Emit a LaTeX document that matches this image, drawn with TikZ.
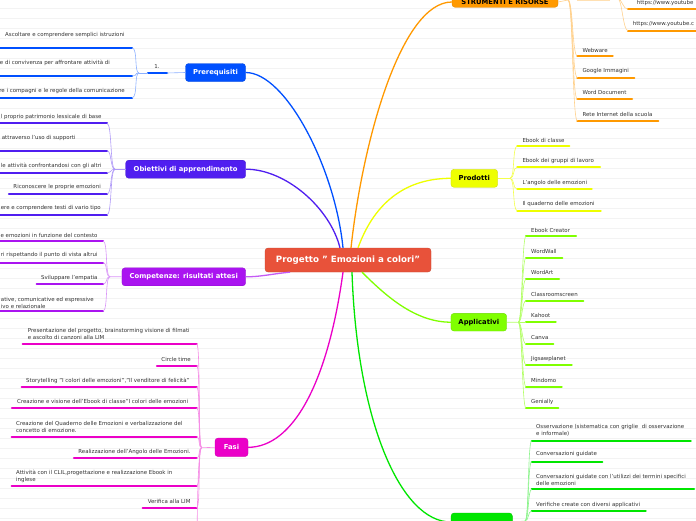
\documentclass[tikz,border=0pt]{standalone}
\usepackage{fontspec}
\setmainfont{DejaVu Sans}
\definecolor{cRed}{RGB}{232,82,58}
\definecolor{cBlue}{RGB}{0,80,255}
\definecolor{cIndigo}{RGB}{80,30,240}
\definecolor{cPurple}{RGB}{170,20,240}
\definecolor{cMag}{RGB}{235,0,200}
\definecolor{cOrange}{RGB}{255,153,0}
\definecolor{cYellow}{RGB}{238,255,0}
\definecolor{cLime}{RGB}{128,255,0}
\definecolor{cGreen}{RGB}{0,230,0}
\definecolor{txt}{RGB}{50,50,50}
\definecolor{stripe}{RGB}{243,243,243}
\newcommand\myul[5]{\coordinate (#2-s) at (#4,#3); \coordinate (#2-e) at (#5,#3); \draw[uline,#1] (#2-s) -- (#2-e);}
\begin{document}
\begin{tikzpicture}[x=1pt,y=-1pt,
  mainbox/.style={rounded corners=3pt, inner sep=0pt, font=\fontsize{6.8}{7.5}\selectfont\bfseries, draw=#1!85!black, line width=0.3pt, fill=#1},
  leaf/.style={font=\fontsize{5.45}{6.7}\selectfont, text=txt, inner sep=0pt, align=left},
  uline/.style={line width=2.2pt, line cap=round},
  twig/.style={line width=0.6pt},
  trunk/.style={line width=1.3pt}]
\useasboundingbox (0,0) rectangle (696,520);
\clip (0,0) rectangle (696,520);
\fill[white] (0,0) rectangle (696,520);
\foreach \k in {0,...,51} \draw[stripe, line width=0.5pt] (0,{8.3+10*\k}) -- (696,{8.3+10*\k});

% ---------- main nodes ----------
\node[mainbox=cRed, minimum width=166pt, minimum height=24pt, text=white, font=\fontsize{8.7}{9}\selectfont\bfseries] (cen) at (348,260) {Progetto " Emozioni a colori"};
\node[mainbox=cBlue, minimum width=60pt, minimum height=18pt, text=white] (pre) at (215.5,72.5) {Prerequisiti};
\node[mainbox=cIndigo, minimum width=120pt, minimum height=18pt, text=white] (obi) at (185.7,169.2) {Obiettivi di apprendimento};
\node[mainbox=cPurple, minimum width=123.7pt, minimum height=18pt, text=white] (com) at (183.8,276.8) {Competenze: risultati attesi};
\node[mainbox=cMag, minimum width=33pt, minimum height=18.5pt, text=white] (fas) at (231.5,447.3) {Fasi};
\node[mainbox=cOrange, minimum width=106pt, minimum height=10.6pt, text=black] (str) at (505,2) {STRUMENTI E RISORSE};
\node[mainbox=cYellow, minimum width=46.7pt, minimum height=18pt, text=black] (pro) at (474.3,178.3) {Prodotti};
\node[mainbox=cLime, minimum width=55.7pt, minimum height=17.7pt, text=black] (app) at (478.8,322.2) {Applicativi};
\node[mainbox=cGreen, minimum width=61.3pt, minimum height=18pt] (val) at (481.7,522) {};

% ---------- connectors from centre ----------
\draw[trunk,cBlue] ([xshift=-5pt]cen.north) .. controls +(-8,-80) and +(40,0) .. (pre.east);
\draw[trunk,cIndigo] ([xshift=-8pt]cen.north) .. controls +(-10,-40) and +(40,0) .. (obi.east);
\draw[trunk,cOrange] ([xshift=3pt]cen.north) .. controls +(12,-110) and +(-50,0) .. (str.west);
\draw[trunk,cYellow] ([xshift=10pt]cen.north) .. controls +(20,-55) and +(-35,0) .. (pro.west);
\draw[trunk,cPurple!70] ([xshift=-58pt]cen.south) .. controls +(-20,2) and +(15,0) .. (com.east);
\draw[trunk,cMag] ([xshift=-5pt]cen.south) .. controls +(-15,110) and +(45,0) .. (fas.east);
\draw[trunk,cLime] ([xshift=14pt]cen.south) .. controls +(25,25) and +(-35,0) .. (app.west);
\draw[trunk,cGreen] ([xshift=4pt]cen.south) .. controls +(5,150) and +(-50,0) .. (val.west);

% ---------- Prerequisiti ----------
\node[leaf] (one) at (157,67) {1.};
\myul{cBlue}{one}{73}{148}{167}
\coordinate (prebr) at (139,73);
\draw[twig,cBlue!45] (pre.west) -- (one-e);
\draw[twig,cBlue!45] (one-s) -- (prebr);
\node[leaf,anchor=west] (p1) at (5,35) {Ascoltare e comprendere semplici istruzioni};
\myul{cBlue}{p1}{48}{-5}{132}
\node[leaf,anchor=east] (p2) at (110,63) {e di convivenza per affrontare attività di};
\myul{cBlue}{p2}{76}{-5}{132}
\node[leaf,anchor=east] (p3) at (125,91) {re i compagni e le regole della comunicazione};
\myul{cBlue}{p3}{97.7}{-5}{132}
\foreach \n in {p1,p2,p3} \draw[twig,cBlue!45] (prebr) .. controls +(-5,0) and +(6,0) .. (\n-e);

% ---------- Obiettivi ----------
\coordinate (obibr) at (115,169.2);
\draw[twig,cIndigo!45] (obi.west) -- (obibr);
\node[leaf,anchor=east] (o1) at (101.7,116.7) {l proprio patrimonio lessicale di base};
\myul{cIndigo}{o1}{123.3}{-5}{107}
\node[leaf,anchor=west] (o2) at (1.7,138.3) {attraverso l'uso di supporti};
\myul{cIndigo}{o2}{150.7}{-5}{107}
\node[leaf,anchor=east] (o3) at (101.7,166) {le attività confrontandosi con gli altri};
\myul{cIndigo}{o3}{172.7}{-5}{107}
\node[leaf,anchor=east] (o4) at (101,187.3) {Riconoscere le proprie emozioni};
\myul{cIndigo}{o4}{194}{9}{107}
\node[leaf,anchor=east] (o5) at (101,208.3) {ere e comprendere testi di vario tipo};
\myul{cIndigo}{o5}{215}{-5}{107}
\foreach \n in {o1,o2,o3,o4,o5} \draw[twig,cIndigo!45] (obibr) .. controls +(-5,0) and +(5,0) .. (\n-e);

% ---------- Competenze ----------
\coordinate (combr) at (110,276.7);
\draw[twig,cPurple!45] (com.west) -- (combr);
\node[leaf,anchor=east] (c1) at (97.7,235) {e emozioni in funzione del contesto};
\myul{cPurple}{c1}{241}{-5}{103}
\node[leaf,anchor=east] (c2) at (97.7,255) {ri rispettando il punto di vista altrui};
\myul{cPurple}{c2}{262.7}{-5}{103}
\node[leaf,anchor=east] (c3) at (97.7,277.7) {Sviluppare l'empatia};
\myul{cPurple}{c3}{284}{36.7}{103}
\node[leaf,anchor=east] (c4) at (94,302.7) {ative, comunicative ed espressive\\ivo e relazionale};
\myul{cPurple}{c4}{311}{-5}{103}
\foreach \n in {c1,c2,c3,c4} \draw[twig,cPurple!45] (combr) .. controls +(-5,0) and +(5,0) .. (\n-e);

% ---------- Fasi ----------
\coordinate (fasbr) at (201.7,447.7);
\draw[twig,cMag!45] (fas.west) -- (fasbr);
\node[leaf,anchor=west] (f1) at (27.7,334.3) {Presentazione del progetto, brainstorming visione di filmati\\e ascolto di canzoni alla LIM};
\myul{cMag}{f1}{344}{22.7}{196.7}
\node[leaf,anchor=east] (f2) at (191,359.3) {Circle time};
\myul{cMag}{f2}{365.7}{157}{196.7}
\node[leaf,anchor=west] (f3) at (26,381) {Storytelling "I colori delle emozioni","Il venditore di felicità"};
\myul{cMag}{f3}{387.3}{21.7}{196.7}
\node[leaf,anchor=west] (f4) at (17,401.7) {Creazione e visione dell'Ebook di classe"I colori delle emozioni};
\myul{cMag}{f4}{408.3}{12}{196.7}
\node[leaf,anchor=west] (f5) at (16,427) {Creazione del Quaderno delle Emozioni e verbalizzazione del\\concetto di emozione.};
\myul{cMag}{f5}{436.7}{11.7}{196.7}
\node[leaf,anchor=east] (f6) at (190.7,452.3) {Realizzazione dell'Angolo delle Emozioni.};
\myul{cMag}{f6}{458.3}{74}{196.7}
\node[leaf,anchor=west] (f7) at (16,476.3) {Attività con il CLIL,progettazione e realizzazione Ebook in\\inglese};
\myul{cMag}{f7}{486}{11.7}{196.7}
\node[leaf,anchor=east] (f8) at (190.7,501) {Verifica alla LIM};
\myul{cMag}{f8}{507.7}{142.7}{196.7}
\foreach \n in {f1,f2,f3,f4,f5,f6,f7,f8} \draw[twig,cMag!45] (fasbr) .. controls +(-4,0) and +(4,0) .. (\n-e);
\coordinate (fmore) at (197,560);
\draw[twig,cMag!45] (fasbr) .. controls +(-4,0) and +(0,-40) .. (fmore);

% ---------- Strumenti e risorse ----------
\coordinate (strbr) at (568,0);
\draw[twig,cOrange!45] (str.east) -- (strbr);
\fill[cOrange!30] (577,-3) rectangle (610,1);
\coordinate (s0e) at (610,-1);
\coordinate (s0br) at (618,-1);
\draw[twig,cOrange!45] (s0e) -- (s0br);
\node[leaf,anchor=west] (h1) at (636.7,3.3) {https://www.youtube};
\myul{cOrange}{h1}{9.3}{628}{705}
\node[leaf,anchor=west] (h2) at (632.7,24) {https://www.youtube.c};
\myul{cOrange}{h2}{30.7}{628}{705}
\foreach \n in {h1,h2} \draw[twig,cOrange!45] (s0br) .. controls +(4,0) and +(-5,0) .. (\n-s);
\node[leaf,anchor=west] (s1) at (582.3,50) {Webware};
\myul{cOrange}{s1}{56}{577.3}{612.7}
\node[leaf,anchor=west] (s2) at (582.3,71) {Google Immagini};
\myul{cOrange}{s2}{77.7}{577.3}{634.3}
\node[leaf,anchor=west] (s3) at (582.3,92.7) {Word Document};
\myul{cOrange}{s3}{99.3}{577.3}{632}
\node[leaf,anchor=west] (s4) at (582.3,114) {Rete Internet della scuola};
\myul{cOrange}{s4}{120.7}{577.3}{658.3}
\foreach \n in {s1,s2,s3,s4} \draw[twig,cOrange!45] (strbr) .. controls +(5,0) and +(-5,0) .. (\n-s);

% ---------- Prodotti ----------
\coordinate (probr) at (510,178.3);
\draw[twig,cYellow!70] (pro.east) -- (probr);
\node[leaf,anchor=west] (r1) at (522.3,140) {Ebook di classe};
\myul{cYellow}{r1}{146}{517.3}{569.3}
\node[leaf,anchor=west] (r2) at (522.3,160.7) {Ebook dei gruppi di lavoro};
\myul{cYellow}{r2}{167.3}{517.3}{600}
\node[leaf,anchor=west] (r3) at (522.3,182.7) {L'angolo delle emozioni};
\myul{cYellow}{r3}{189}{517.3}{591.7}
\node[leaf,anchor=west] (r4) at (522.3,204) {Il quaderno delle emozioni};
\myul{cYellow}{r4}{210.7}{517.3}{600.7}
\foreach \n in {r1,r2,r3,r4} \draw[twig,cYellow!70] (probr) .. controls +(5,0) and +(-5,0) .. (\n-s);

% ---------- Applicativi ----------
\coordinate (appbr) at (518.3,322.3);
\draw[twig,cLime!60] (app.east) -- (appbr);
\node[leaf,anchor=west] (a1) at (531,230) {Ebook Creator};
\myul{cLime}{a1}{236}{526}{576}
\node[leaf,anchor=west] (a2) at (531,251) {WordWall};
\myul{cLime}{a2}{257.7}{526}{562.3}
\node[leaf,anchor=west] (a3) at (531,272.7) {WordArt};
\myul{cLime}{a3}{279}{526}{559}
\node[leaf,anchor=west] (a4) at (531,294) {Classroomscreen};
\myul{cLime}{a4}{300.7}{526}{583.3}
\node[leaf,anchor=west] (a5) at (531,315.7) {Kahoot};
\myul{cLime}{a5}{322.3}{526}{555.7}
\node[leaf,anchor=west] (a6) at (531,337.3) {Canva};
\myul{cLime}{a6}{344}{526}{553.3}
\node[leaf,anchor=west] (a7) at (531,359) {Jigsawplanet};
\myul{cLime}{a7}{365}{526}{571.7}
\node[leaf,anchor=west] (a8) at (531,380) {Mindomo};
\myul{cLime}{a8}{386.7}{526}{561.7}
\node[leaf,anchor=west] (a9) at (531,402.3) {Genially};
\myul{cLime}{a9}{408.3}{526}{558.3}
\foreach \n in {a1,a2,a3,a4,a5,a6,a7,a8,a9} \draw[twig,cLime!60] (appbr) .. controls +(4,0) and +(-4,0) .. (\n-s);

% ---------- bottom green ----------
\coordinate (valbr) at (525,521);
\draw[twig,cGreen!45] (val.east) -- (valbr);
\node[leaf,anchor=west] (v1) at (536,430.3) {Osservazione (sistematica con griglie\ \ di osservazione\\e informale)};
\myul{cGreen}{v1}{440.7}{531.7}{690.7}
\node[leaf,anchor=west] (v2) at (536,454.3) {Conversazioni guidate};
\myul{cGreen}{v2}{461.7}{531.7}{602.3}
\node[leaf,anchor=west] (v3) at (536,479.7) {Conversazioni guidate con l'utilizzi dei termini specifici\\delle emozioni};
\myul{cGreen}{v3}{489.3}{531.7}{694}
\node[leaf,anchor=west] (v4) at (536,505) {Verifiche create con diversi applicativi};
\myul{cGreen}{v4}{511}{531.7}{645.7}
\foreach \n in {v1,v2,v3,v4} \draw[twig,cGreen!45] (valbr) .. controls +(4,0) and +(-4,0) .. (\n-s);
\end{tikzpicture}
\end{document}
